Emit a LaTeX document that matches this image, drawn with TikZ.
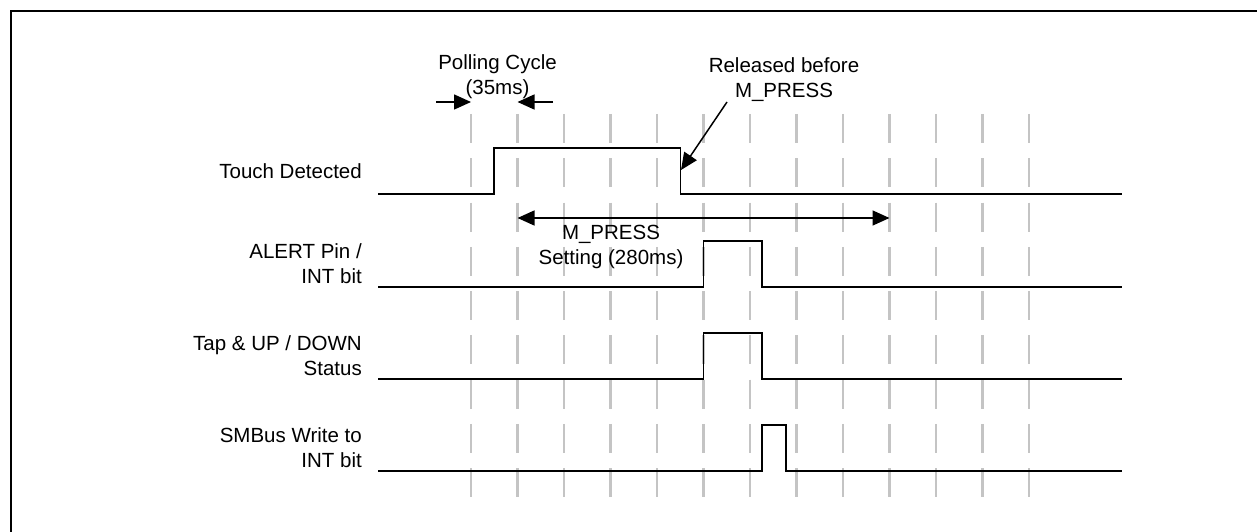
\documentclass[tikz,border=0pt]{standalone}
\usepackage{fontspec}
\setmainfont{Liberation Sans}
\usetikzlibrary{arrows.meta,positioning,calc}
\definecolor{tickgray}{RGB}{196,196,196}
\tikzstyle{signal} = [line width=1.8pt, line join=miter]
\tikzstyle{tick} = [line width=2.8pt, color=tickgray, dash pattern=on 29pt off 15.25pt]
\tikzstyle{arrow} = [line width=1.5pt, -{Triangle[length=17pt,width=15pt]}]
\tikzstyle{dblarrow} = [line width=1.5pt, {Triangle[length=17pt,width=15pt]}-{Triangle[length=17pt,width=15pt]}]
\tikzstyle{sig label} = [align=right, anchor=east, inner sep=0pt, font=\fontsize{20.5}{25}\selectfont]
\tikzstyle{note} = [align=center, inner sep=0pt, font=\fontsize{20.5}{25}\selectfont]

\begin{document}
\begin{tikzpicture}[x=1pt, y=-1pt]
\useasboundingbox (0,0) rectangle (1257,532);
% frame
\draw[line width=2.8pt] (11,532) -- (11,11) -- (1257,11);
% polling grid
\foreach \i in {0,...,12}
  \draw[tick] ({471+46.5*\i},114) -- ++(0,383);
% signal names
\node (TD) [sig label] at (362,171.5) {Touch Detected};
\node (AL) [sig label] at (362,264) {ALERT Pin /\\INT bit};
\node (TS) [sig label] at (362,356) {Tap \& UP / DOWN\\Status};
\node (SM) [sig label] at (362,448) {SMBus Write to\\INT bit};
% waveforms
\draw[signal] (378,194) -- (494,194) -- (494,148) -- (680.5,148) -- (680.5,194) -- (1122,194);
\draw[signal] (378,287) -- (703.5,287) -- (703.5,241) -- (762,241) -- (762,287) -- (1122,287);
\draw[signal] (378,379) -- (703.5,379) -- (703.5,333) -- (762,333) -- (762,379) -- (1122,379);
\draw[signal] (378,471) -- (762,471) -- (762,425) -- (786,425) -- (786,471) -- (1122,471);
% polling cycle
\node (PC) [note] at (497.5,77) {Polling Cycle\\(35ms)};
\coordinate (pcL) at (436,102);
\coordinate (pcA) at (471,102);
\coordinate (pcB) at (517.5,102);
\coordinate (pcR) at (553,102);
\draw [arrow] (pcL) -- (pcA);
\draw [arrow] (pcR) -- (pcB);
% release
\node (RB) [note] at (784,79.5) {Released before\\M\_PRESS};
\coordinate (rbS) at (727,102);
\coordinate (rbE) at (681,170);
\draw [arrow] (rbS) -- (rbE);
% m_press setting
\coordinate (mpA) at (517.5,218);
\coordinate (mpB) at (889.5,218);
\draw [dblarrow] (mpA) -- (mpB);
\node (MP) [note] at (611,247) {M\_PRESS\\Setting (280ms)};
\end{tikzpicture}
\end{document}
